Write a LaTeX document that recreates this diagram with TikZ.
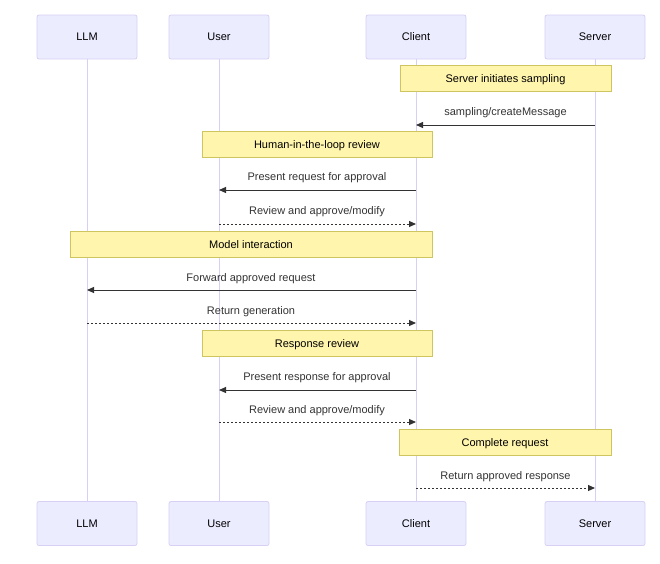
\documentclass[tikz,border=0pt]{standalone}
\usepackage{fontspec}
\setmainfont{Liberation Sans}
\usetikzlibrary{arrows.meta}

\definecolor{actorfill}{RGB}{236,236,255}
\definecolor{actorline}{RGB}{216,208,244}
\definecolor{notefill}{RGB}{255,245,173}
\definecolor{noteline}{RGB}{206,196,96}
\definecolor{msgcol}{RGB}{51,51,51}

\tikzset{
  actor/.style={draw=actorline,fill=actorfill,rounded corners=2pt,line width=0.8pt,
    minimum width=100pt,minimum height=44pt,inner sep=0pt,text=black,
    font=\fontsize{11}{13}\selectfont},
  note/.style={draw=noteline,fill=notefill,line width=0.8pt,minimum height=26pt,
    inner sep=0pt,text=black,text depth=0pt,text height=8pt,
    font=\fontsize{11}{13}\selectfont},
  msg/.style={draw=msgcol,line width=1pt,-{Triangle[length=7pt,width=6pt]}},
  reply/.style={msg,dash pattern=on 2pt off 2pt},
  lbl/.style={text=msgcol,font=\fontsize{11}{13}\selectfont,inner sep=0pt,
    text depth=0pt,text height=8pt}
}

\begin{document}
\begin{tikzpicture}[x=1pt,y=-1pt]

\useasboundingbox (0,0) rectangle (660,563);

% Actors (top)
\node[actor] (LLM)    at (87,37)  {LLM};
\node[actor] (User)   at (219,37) {User};
\node[actor] (Client) at (416,37) {Client};
\node[actor] (Server) at (595,37) {Server};

% Actors (bottom)
\node[actor] (LLMb)    at (87,523.5)  {LLM};
\node[actor] (Userb)   at (219,523.5) {User};
\node[actor] (Clientb) at (416,523.5) {Client};
\node[actor] (Serverb) at (595,523.5) {Server};

% Lifelines
\draw[actorline,line width=0.9pt] (LLM) -- (LLMb);
\draw[actorline,line width=0.9pt] (User) -- (Userb);
\draw[actorline,line width=0.9pt] (Client) -- (Clientb);
\draw[actorline,line width=0.9pt] (Server) -- (Serverb);

% Notes
\node[note,minimum width=211pt] (n1) at (505.5,78)  {Server initiates sampling};
\node[note,minimum width=230pt] (n2) at (317,144)   {Human-in-the-loop review};
\node[note,minimum width=362pt] (n3) at (251,244)   {Model interaction};
\node[note,minimum width=230pt] (n4) at (317,343)   {Response review};
\node[note,minimum width=212pt] (n5) at (505,442)   {Complete request};

% Message rows
\coordinate (r1) at (0,125);
\coordinate (r2) at (0,190);
\coordinate (r3) at (0,224);
\coordinate (r4) at (0,290);
\coordinate (r5) at (0,323);
\coordinate (r6) at (0,390);
\coordinate (r7) at (0,422);
\coordinate (r8) at (0,488);

% Messages
\draw[msg]   (Server |- r1) -- (Client |- r1);
\draw[msg]   (Client |- r2) -- (User |- r2);
\draw[reply] (User |- r3)   -- (Client |- r3);
\draw[msg]   (Client |- r4) -- (LLM |- r4);
\draw[reply] (LLM |- r5)    -- (Client |- r5);
\draw[msg]   (Client |- r6) -- (User |- r6);
\draw[reply] (User |- r7)   -- (Client |- r7);
\draw[reply] (Client |- r8) -- (Server |- r8);

% Labels
\node[lbl] at (505.5,111) {sampling/createMessage};
\node[lbl] at (317,176)   {Present request for approval};
\node[lbl] at (317,210)   {Review and approve/modify};
\node[lbl] at (251,277)   {Forward approved request};
\node[lbl] at (251,310)   {Return generation};
\node[lbl] at (317,376)   {Present response for approval};
\node[lbl] at (317,409)   {Review and approve/modify};
\node[lbl] at (505.5,475) {Return approved response};

\end{tikzpicture}
\end{document}
